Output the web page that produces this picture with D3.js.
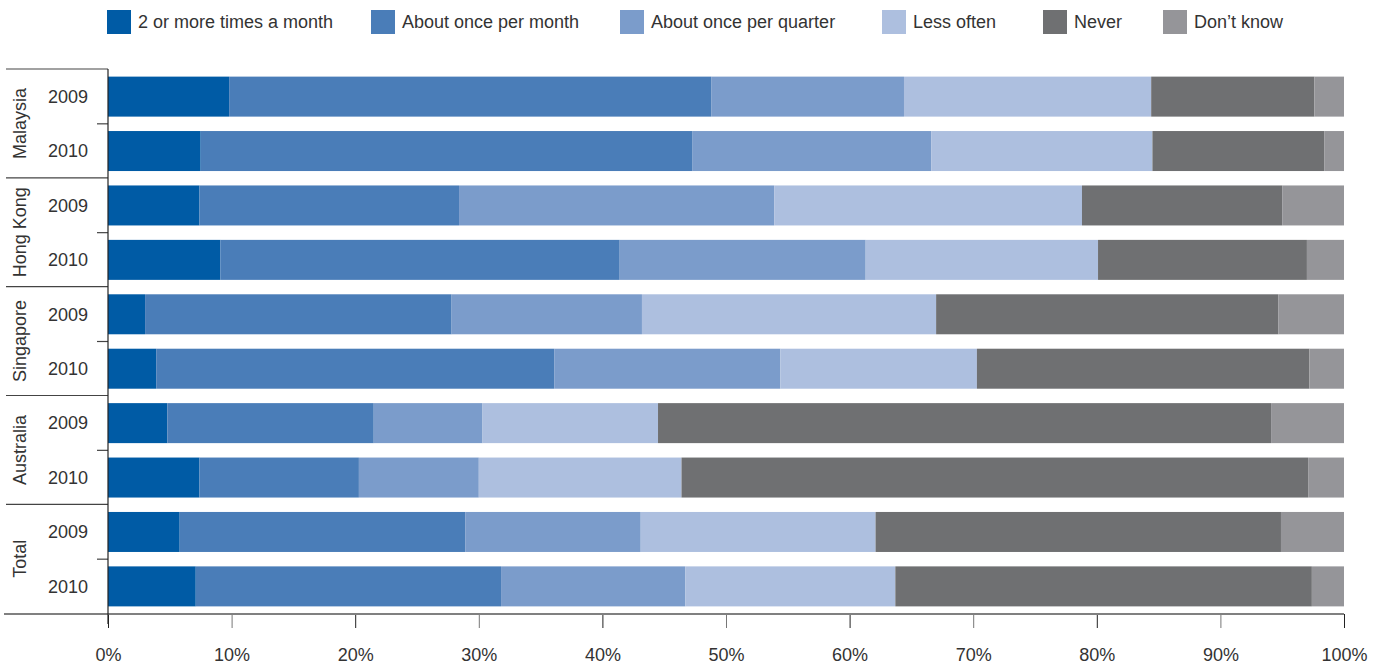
<!DOCTYPE html>
<html>
<head>
<meta charset="utf-8">
<script src="https://cdn.jsdelivr.net/npm/d3@7"></script>
<style>
  body { margin: 0; background: #fff; }
  text { font-family: "Liberation Sans", Arial, sans-serif; fill: #333; }
</style>
</head>
<body>
<div id="main"></div>
<script>
const groups = ["Malaysia", "Hong Kong", "Singapore", "Australia", "Total"];
const years = ["2009", "2010"];
const seriesNames = [
  "2 or more times a month",
  "About once per month",
  "About once per quarter",
  "Less often",
  "Never",
  "Don\u2019t know",
];
const colors = ["#005ba5", "#4a7db8", "#7b9ccb", "#adbfdf", "#6f7072", "#959599"];

// one value per row: Malaysia 2009, 2010, Hong Kong 2009, 2010, ...
const twoOrMore = [9.8, 7.5, 7.4, 9.1, 3.0, 3.9, 4.8, 7.4, 5.8, 7.1];
const oncePerMonth = [39.0, 39.8, 21.0, 32.3, 24.8, 32.2, 16.7, 12.9, 23.1, 24.7];
const oncePerQuarter = [15.6, 19.3, 25.5, 19.9, 15.4, 18.3, 8.8, 9.7, 14.2, 14.9];
const lessOften = [20.0, 17.9, 24.9, 18.8, 23.8, 15.9, 14.2, 16.4, 19.0, 17.0];
const never = [13.2, 13.9, 16.2, 16.9, 27.7, 26.9, 49.6, 50.7, 32.8, 33.7];
const dontKnow = [2.4, 1.6, 5.0, 3.0, 5.3, 2.8, 5.9, 2.9, 5.1, 2.6];
const xTicks = [0, 10, 20, 30, 40, 50, 60, 70, 80, 90, 100];

const width = 1382;
const height = 666;
const margin = { top: 69, right: 38, bottom: 52, left: 108 };

const allSeries = [twoOrMore, oncePerMonth, oncePerQuarter, lessOften, never, dontKnow];

const rows = [];
groups.forEach((g, gi) => {
  years.forEach((y, yi) => {
    const i = gi * 2 + yi;
    const row = { key: g + " " + y, group: g, year: y };
    seriesNames.forEach((s, si) => (row[s] = allSeries[si][i]));
    rows.push(row);
  });
});

const svg = d3.select("#main").append("svg").attr("width", width).attr("height", height);

const xScale = d3
  .scaleLinear()
  .domain([0, 100])
  .range([margin.left, width - margin.right]);

const yScale = d3
  .scaleBand()
  .domain(rows.map((r) => r.key))
  .range([margin.top, height - margin.bottom])
  .paddingInner(0.265)
  .paddingOuter(0.14);

const stack = d3.stack().keys(seriesNames)(rows);

// bars
svg
  .selectAll("g.series")
  .data(stack)
  .enter()
  .append("g")
  .attr("class", "series")
  .attr("fill", (d, i) => colors[i])
  .selectAll("rect")
  .data((d) => d)
  .enter()
  .append("rect")
  .attr("x", (d) => xScale(d[0]))
  .attr("y", (d) => yScale(d.data.key))
  .attr("width", (d) => xScale(d[1]) - xScale(d[0]))
  .attr("height", yScale.bandwidth());

// x axis
const xAxis = d3
  .axisBottom(xScale)
  .tickValues(xTicks)
  .tickFormat((d) => d + "%")
  .tickSize(14)
  .tickPadding(20);

const xg = svg
  .append("g")
  .attr("id", "x-axis")
  .attr("transform", `translate(0, ${height - margin.bottom})`)
  .call(xAxis);
xg.select(".domain").remove();
xg.selectAll(".tick line").attr("stroke", (d, i) => (i % 2 ? "#777" : "#222"));
xg.selectAll(".tick text").style("font-size", "18px").attr("fill", "#333");

// group outline lines on the left
const step = yScale.step();
const groupEdges = d3.range(groups.length + 1).map((i) => margin.top + i * step * 2);

svg
  .selectAll("line.group-edge")
  .data(groupEdges.slice(0, -1))
  .enter()
  .append("line")
  .attr("class", "group-edge")
  .attr("x1", 6)
  .attr("x2", margin.left)
  .attr("y1", (d) => d)
  .attr("y2", (d) => d)
  .attr("stroke", "#444")
  .attr("stroke-width", 1.2);

// row ticks between years
svg
  .selectAll("line.mid-tick")
  .data(groups)
  .enter()
  .append("line")
  .attr("x1", margin.left - 11)
  .attr("x2", margin.left)
  .attr("y1", (g) => yScale(g + " 2010") - (step - yScale.bandwidth()) / 2)
  .attr("y2", (g) => yScale(g + " 2010") - (step - yScale.bandwidth()) / 2)
  .attr("stroke", "#444")
  .attr("stroke-width", 1.2);

// bottom baseline
svg
  .append("line")
  .attr("x1", 4)
  .attr("x2", xScale(100))
  .attr("y1", height - margin.bottom)
  .attr("y2", height - margin.bottom)
  .attr("stroke", "#808080")
  .attr("stroke-width", 2);

// left axis line
svg
  .append("line")
  .attr("x1", margin.left)
  .attr("x2", margin.left)
  .attr("y1", margin.top)
  .attr("y2", height - margin.bottom + 10)
  .attr("stroke", "#222")
  .attr("stroke-width", 1.2);

// year labels
svg
  .selectAll("text.year")
  .data(rows)
  .enter()
  .append("text")
  .attr("class", "year")
  .attr("x", 68)
  .attr("y", (d) => yScale(d.key) + yScale.bandwidth() / 2)
  .attr("dy", "0.35em")
  .attr("text-anchor", "middle")
  .style("font-size", "18px")
  .text((d) => d.year);

// group labels
svg
  .selectAll("text.group")
  .data(groups)
  .enter()
  .append("text")
  .attr("class", "group")
  .attr("transform", (g, i) => `translate(20, ${(groupEdges[i] + groupEdges[i + 1]) / 2}) rotate(-90)`)
  .attr("dy", "0.35em")
  .attr("text-anchor", "middle")
  .style("font-size", "18px")
  .text((g) => g);

// legend
const legendX = [107, 371, 620, 882, 1043, 1163];
const legend = svg
  .selectAll("g.legend")
  .data(seriesNames)
  .enter()
  .append("g")
  .attr("class", "legend")
  .attr("transform", (d, i) => `translate(${legendX[i]}, 10)`);

legend
  .append("rect")
  .attr("width", 24)
  .attr("height", 24)
  .attr("fill", (d, i) => colors[i]);

legend
  .append("text")
  .attr("x", 31)
  .attr("y", 12)
  .attr("dy", "0.35em")
  .style("font-size", "18px")
  .text((d) => d);
</script>
</body>
</html>
